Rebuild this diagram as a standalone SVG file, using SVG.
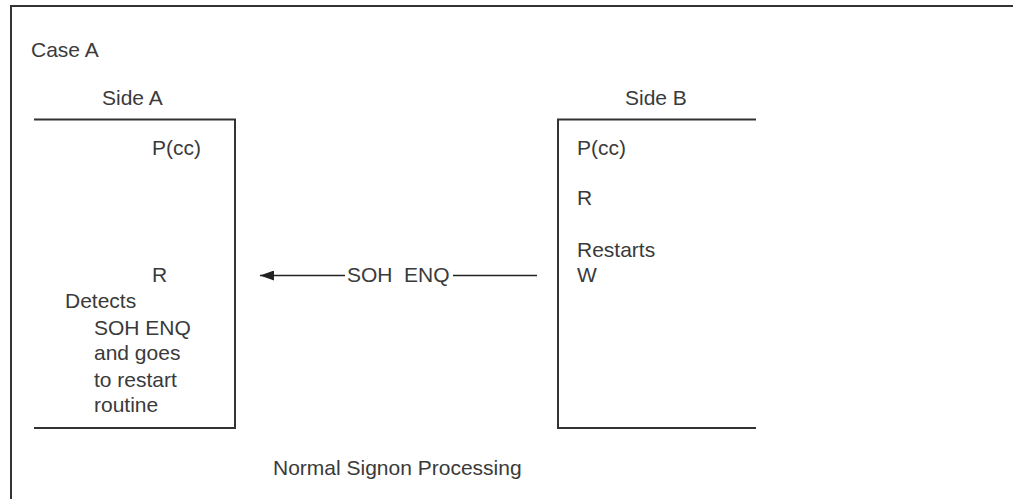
<svg xmlns="http://www.w3.org/2000/svg" width="1014" height="499" viewBox="0 0 1014 499">
<defs>
<style>
text{font-family:"Liberation Sans",Arial,sans-serif;font-size:21px;fill:#3a3a3a}
.ln{stroke:#333;stroke-width:2;fill:none}
.cn{stroke:#222;stroke-width:1.6;fill:none}
</style>
<marker id="ah" markerUnits="userSpaceOnUse" markerWidth="14" markerHeight="10" refX="14" refY="5" orient="auto" viewBox="0 0 14 10">
<path d="M14,5 L0,0 L0,10 Z" fill="#222"/>
</marker>
</defs>
<rect width="1014" height="499" fill="#fff"/>
<g id="frame">
<path class="ln" d="M1013,6 H11 V499"/>
<text x="31" y="57">Case A</text>
<text x="273" y="475">Normal Signon Processing</text>
</g>
<g id="sideA">
<text x="102" y="105">Side A</text>
<path class="ln" d="M34,119.5 H235 V428 H34"/>
<text x="152" y="155">P(cc)</text>
<text x="152" y="282">R</text>
<text x="65" y="308">Detects</text>
<text x="94" y="335">SOH ENQ</text>
<text x="94" y="360">and goes</text>
<text x="94" y="387">to restart</text>
<text x="94" y="412">routine</text>
</g>
<g id="sideB">
<text x="625" y="105">Side B</text>
<path class="ln" d="M756,119.5 H558 V428 H756"/>
<text x="577" y="155">P(cc)</text>
<text x="577" y="205">R</text>
<text x="577" y="257">Restarts</text>
<text x="577" y="282">W</text>
</g>
<g id="connectors">
<line class="cn" x1="345" y1="275.5" x2="260" y2="275.5" marker-end="url(#ah)"/>
<line class="cn" x1="537" y1="275.5" x2="453" y2="275.5"/>
<text x="347" y="282">SOH</text>
<text x="404" y="282">ENQ</text>
</g>
</svg>
